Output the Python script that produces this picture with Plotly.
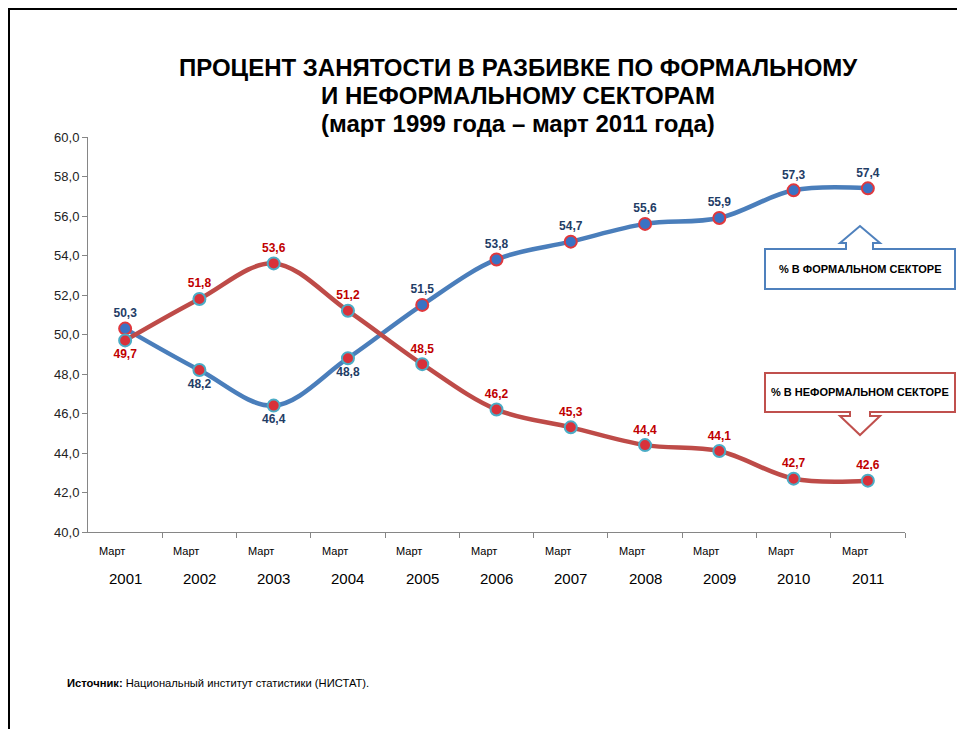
import plotly.graph_objects as go

years = ["2001", "2002", "2003", "2004", "2005", "2006", "2007", "2008", "2009", "2010", "2011"]
month_label = "Март"
formal = [50.3, 48.2, 46.4, 48.8, 51.5, 53.8, 54.7, 55.6, 55.9, 57.3, 57.4]
informal = [49.7, 51.8, 53.6, 51.2, 48.5, 46.2, 45.3, 44.4, 44.1, 42.7, 42.6]
formal_pos = ["top center", "bottom center", "bottom center", "bottom center"] + ["top center"] * 7
informal_pos = ["bottom center", "top center", "top center", "top center"] + ["top center"] * 7

title_lines = ["ПРОЦЕНТ ЗАНЯТОСТИ В РАЗБИВКЕ ПО ФОРМАЛЬНОМУ",
               "И НЕФОРМАЛЬНОМУ СЕКТОРАМ",
               "(март 1999 года – март 2011 года)"]
formal_box = "% В ФОРМАЛЬНОМ СЕКТОРЕ"
informal_box = "% В НЕФОРМАЛЬНОМ СЕКТОРЕ"
source_bold = "Источник:"
source_text = " Национальный институт статистики (НИСТАТ)."

OFF = 8  # page body margin
W, H = 965, 729
L, R, T, B = 88 - OFF, 60 + OFF, 137 - OFF, 197 + OFF
PW, PH = W - L - R, H - T - B


def px(x):
    return (x - OFF - L) / PW


def py(y):
    return (H - B - (y - OFF)) / PH


def path(points):
    return "M " + " L ".join(f"{px(a):.5f},{py(b):.5f}" for a, b in points) + " Z"


xs = list(range(len(years)))
BLUE, RED = "#4a7ebb", "#be4b48"
DBLUE, DRED = "#1f3d66", "#c00000"

f_fill = ["#3a72c4"] + ["#d8313a"] * 3 + ["#3a72c4"] * 7
f_line = ["#e0383d"] + ["#4bacc6"] * 3 + ["#e0383d"] * 7

fig = go.Figure()
fig.add_trace(go.Scatter(
    x=xs, y=formal, mode="lines+markers+text", line=dict(color=BLUE, width=4.5, shape="spline", smoothing=1),
    marker=dict(size=12, color=f_fill, line=dict(color=f_line, width=2)),
    text=[f"{v:.1f}".replace(".", ",") for v in formal], textposition=formal_pos,
    textfont=dict(family="Liberation Sans", size=12, color=DBLUE, weight="bold"),
    cliponaxis=False, showlegend=False, hoverinfo="skip"))
fig.add_trace(go.Scatter(
    x=xs, y=informal, mode="lines+markers+text", line=dict(color=RED, width=4.5, shape="spline", smoothing=1),
    marker=dict(size=12, color="#d8313a", line=dict(color="#4bacc6", width=2)),
    text=[f"{v:.1f}".replace(".", ",") for v in informal], textposition=informal_pos,
    textfont=dict(family="Liberation Sans", size=12, color=DRED, weight="bold"),
    cliponaxis=False, showlegend=False, hoverinfo="skip"))

annotations = []
for i, t in enumerate(title_lines):
    annotations.append(dict(xref="paper", yref="paper", x=px(518), y=py(68 + 27.5 * i), text=f"<b>{t}</b>",
                            showarrow=False, font=dict(family="Liberation Sans", size=24, color="#000000"),
                            xanchor="center", yanchor="middle"))
for i, yr in enumerate(years):
    annotations.append(dict(xref="x", yref="paper", x=i, y=py(551), xshift=-13, text=month_label, showarrow=False,
                            font=dict(family="Liberation Sans Narrow, Liberation Sans", size=11, color="#000000"),
                            xanchor="center", yanchor="middle"))
    annotations.append(dict(xref="x", yref="paper", x=i, y=py(578), text=yr, showarrow=False,
                            font=dict(family="Liberation Sans", size=15, color="#000000"),
                            xanchor="center", yanchor="middle"))
annotations.append(dict(xref="paper", yref="paper", x=px(860), y=py(269), text=f"<b>{formal_box}</b>", showarrow=False,
                        font=dict(family="Liberation Sans Narrow, Liberation Sans", size=11, color="#000000"),
                        xanchor="center", yanchor="middle"))
annotations.append(dict(xref="paper", yref="paper", x=px(860), y=py(392), text=f"<b>{informal_box}</b>", showarrow=False,
                        font=dict(family="Liberation Sans Narrow, Liberation Sans", size=11, color="#000000"),
                        xanchor="center", yanchor="middle"))
annotations.append(dict(xref="paper", yref="paper", x=px(65), y=py(683), text=f"<b>{source_bold}</b>{source_text}",
                        showarrow=False, font=dict(family="Liberation Sans Narrow, Liberation Sans", size=11.2, color="#000000"),
                        xanchor="left", yanchor="middle"))

shapes = [
    dict(type="rect", xref="paper", yref="paper", x0=px(9), y0=py(760), x1=px(1000), y1=py(9),
         line=dict(color="#000000", width=2), fillcolor="rgba(0,0,0,0)", layer="below"),
    dict(type="path", xref="paper", yref="paper",
         path=path([(765, 249), (846, 249), (846, 243), (840, 243), (860, 226), (880, 243), (873, 243),
                    (873, 249), (955, 249), (955, 289), (765, 289)]),
         line=dict(color="#4f81bd", width=2), fillcolor="#ffffff", layer="below"),
    dict(type="path", xref="paper", yref="paper",
         path=path([(765, 373), (955, 373), (955, 412), (870, 412), (870, 416), (880, 416), (860, 435),
                    (840, 416), (850, 416), (850, 412), (765, 412)]),
         line=dict(color="#c0504d", width=2), fillcolor="#ffffff", layer="below"),
]

fig.update_layout(
    width=W, height=H, margin=dict(l=L, r=R, t=T, b=B, autoexpand=False),
    paper_bgcolor="#ffffff", plot_bgcolor="rgba(0,0,0,0)", separators=", ",
    annotations=annotations, shapes=shapes,
    xaxis=dict(range=[-0.5, len(years) - 0.5], showgrid=False, zeroline=False, showline=True,
               linecolor="#868686", linewidth=1, ticks="outside", ticklen=5, tickcolor="#868686",
               tickvals=[k + 0.5 for k in range(len(years))], showticklabels=False, fixedrange=True),
    yaxis=dict(range=[40, 60], dtick=2, tickformat=".1f", showgrid=False, zeroline=False, showline=True,
               linecolor="#868686", linewidth=1, ticks="outside", ticklen=5, tickcolor="#868686",
               tickfont=dict(family="Liberation Sans", size=13, color="#222222"), fixedrange=True),
)

fig.write_html("out.html")
